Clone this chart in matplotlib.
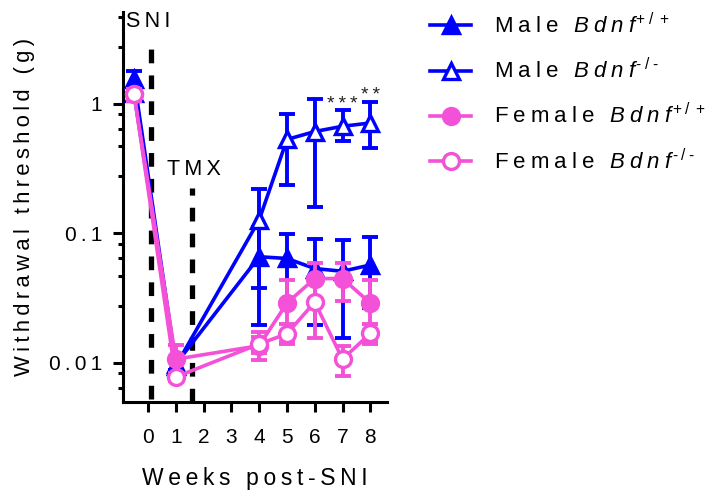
import matplotlib
matplotlib.use("Agg")
import matplotlib.pyplot as plt
import numpy as np
from matplotlib.ticker import FixedLocator, NullFormatter

plt.rcParams['font.family'] = ['Liberation Sans', 'DejaVu Sans']
plt.rcParams['mathtext.fontset'] = 'custom'
plt.rcParams['mathtext.rm'] = 'Liberation Sans'
plt.rcParams['mathtext.it'] = 'Liberation Sans:italic'
plt.rcParams['mathtext.bf'] = 'Liberation Sans:bold'

# ---------------- data ----------------
weeks = [-0.5, 1, 4, 5, 6, 7, 8]
xtick_vals = [0, 1, 2, 3, 4, 5, 6, 7, 8]

male_wt = [1.54, 0.0098, 0.066, 0.064, 0.0535, 0.051, 0.057]
male_wt_lo = [1.28, 0.0088, 0.0196, 0.030, 0.0195, 0.0156, 0.0264]
male_wt_hi = [1.80, 0.0108, 0.112, 0.098, 0.090, 0.089, 0.093]

male_ko = [1.20, 0.0095, 0.127, 0.53, 0.61, 0.67, 0.71]
male_ko_lo = [1.05, 0.0088, 0.038, 0.237, 0.159, 0.52, 0.456]
male_ko_hi = [1.35, 0.0102, 0.22, 0.826, 1.09, 0.887, 1.03]

female_wt = [1.18, 0.0107, 0.0136, 0.029, 0.0448, 0.0448, 0.029]
female_wt_lo = [1.05, 0.0082, 0.0105, 0.0145, 0.030, 0.030, 0.0145]
female_wt_hi = [1.30, 0.0138, 0.0173, 0.0435, 0.0594, 0.0594, 0.0435]

female_ko = [1.18, 0.0078, 0.014, 0.0168, 0.0295, 0.0107, 0.0169]
female_ko_lo = [1.05, 0.0072, 0.012, 0.0139, 0.0155, 0.0080, 0.0139]
female_ko_hi = [1.30, 0.0084, 0.016, 0.020, 0.0435, 0.0136, 0.020]

sig_weeks = [7, 8]
sig_labels = ['***', '**']

sni_week = 0.12
tmx_week = 1.6

BLUE = '#0000FF'
PINK = '#F352D8'
TS = '\u2009'
HY = '\u2010'


def sp(s):
    return TS.join(list(s))


def leg_label(sex, geno_sup):
    sex_m = r'\;'.join(list(sex))
    return (r'$\mathrm{' + sex_m + r'}\;\;\;\mathit{B\;d\;n\;f}^{\mathrm{'
            + geno_sup + r'}}$')


fig = plt.figure(figsize=(7.12, 4.95), dpi=100)
ax = fig.add_axes([123/712, 1-402/495, (387-123)/712, (402-12)/495])

sup_wt = r'+\;\mathit{/}\;+'
sup_ko = HY + r'\;\mathit{/}\;' + HY

series = [
    (male_wt, male_wt_lo, male_wt_hi, BLUE, '^', BLUE, leg_label('Male', sup_wt)),
    (male_ko, male_ko_lo, male_ko_hi, BLUE, '^', 'white', leg_label('Male', sup_ko)),
    (female_wt, female_wt_lo, female_wt_hi, PINK, 'o', PINK, leg_label('Female', sup_wt)),
    (female_ko, female_ko_lo, female_ko_hi, PINK, 'o', 'white', leg_label('Female', sup_ko)),
]

handles = []
for i, (v, lo, hi, c, m, fc, lab) in enumerate(series):
    v = np.array(v); lo = np.array(lo); hi = np.array(hi)
    yerr = np.vstack([v - lo, hi - v])
    ax.errorbar(weeks, v, yerr=yerr, fmt='none', ecolor=c, elinewidth=2.8,
                capsize=5.5, capthick=2.8, zorder=2 + i)
    ms = 12 if m == '^' else 11.5
    h, = ax.plot(weeks, v, color=c, lw=2.6, marker=m, ms=ms, mfc=fc,
                 mec=c, mew=2.4, zorder=3 + i, label=lab)
    handles.append(h)

# significance stars
for w, s in zip(sig_weeks, sig_labels):
    idx = weeks.index(w)
    ax.annotate(sp(s), xy=(w, male_ko_hi[idx]), xytext=(0, -1.5),
                textcoords='offset points', ha='center', va='bottom',
                fontsize=14, color='#222222')

# dashed event lines
ax.plot([sni_week, sni_week], [0.0053, 3.27], color='black', lw=3.8,
        dashes=(2.6, 2.3), zorder=1)
ax.plot([tmx_week, tmx_week], [0.005, 0.224], color='black', lw=3.8,
        dashes=(2.6, 2.3), zorder=1)
ax.text(-0.8, 4.3, sp('SNI'), fontsize=15.5, ha='left', va='center')
ax.text(tmx_week + 0.05, 0.31, sp('TMX'), fontsize=15.5, ha='center',
        va='center')

ax.set_yscale('log')
ax.set_ylim(0.005, 5.1)
ax.set_xlim(-0.9, 8.6)

ax.set_xticks(xtick_vals)
ax.set_xticklabels([str(t) for t in xtick_vals])
ax.set_yticks([0.01, 0.1, 1])
ax.set_yticklabels([sp('0.01'), sp('0.1'), '1'])
minor = []
for d in [0.001, 0.01, 0.1, 1, 10]:
    for f in [0.275, 0.47, 0.64, 0.83]:
        val = f * d
        if 0.005 < val < 5.1:
            minor.append(val)
ax.yaxis.set_minor_locator(FixedLocator(minor))
ax.yaxis.set_minor_formatter(NullFormatter())
ax.xaxis.set_minor_locator(FixedLocator([]))

for s in ['top', 'right']:
    ax.spines[s].set_visible(False)
for s in ['left', 'bottom']:
    ax.spines[s].set_linewidth(2.2)
ax.tick_params(axis='both', which='major', length=7, width=2.2,
               labelsize=15, pad=8)
ax.tick_params(axis='y', which='minor', length=3.8, width=2.2)
ax.tick_params(axis='x', which='major', pad=12)

ax.set_xlabel(sp('Weeks post-SNI'), fontsize=16.5, labelpad=14)
ax.set_ylabel(sp('Withdrawal threshold (g)'), fontsize=15.8, labelpad=10)

fig.legend(handles=handles, loc='upper left',
           bbox_to_anchor=(430/712, 1 - 13/495), frameon=False,
           fontsize=16, handlelength=1.85, handletextpad=1.05,
           labelspacing=0.9, borderpad=0, borderaxespad=0)

fig.savefig('out.png', dpi=100)
